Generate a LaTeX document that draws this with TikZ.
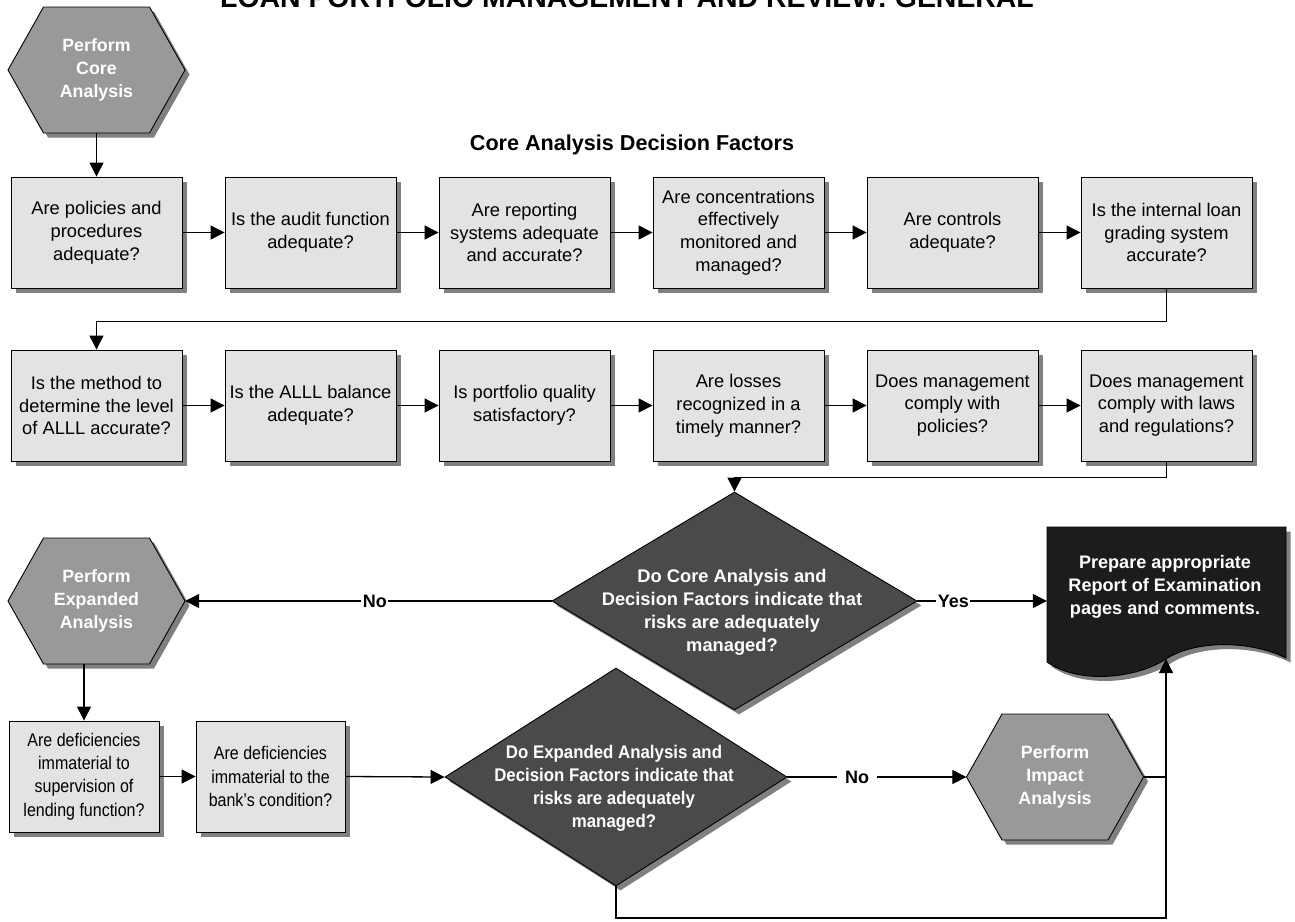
\documentclass[tikz,border=0pt]{standalone}
\usepackage{fontspec}
\setmainfont{Liberation Sans}
\newfontfamily\condfont[FakeStretch=0.875]{Liberation Sans}
\newfontfamily\condbfont[FakeStretch=0.92]{Liberation Sans}
\usetikzlibrary{shapes.geometric,arrows.meta,shadows,calc}

\definecolor{boxgray}{HTML}{E3E3E3}
\definecolor{hexgray}{HTML}{999999}
\definecolor{diagray}{HTML}{4A4A4A}
\definecolor{docblack}{HTML}{1C1C1C}
\definecolor{shadowgray}{HTML}{808080}

\tikzset{
  shadowed/.style={drop shadow={shadow xshift=4.5pt,shadow yshift=-4.5pt,fill=shadowgray,opacity=1}},
  qbox/.style={rectangle, draw=black, line width=0.9pt, fill=boxgray, minimum width=171pt, minimum height=111pt, inner sep=0pt, align=center, font=\fontsize{18.3}{22.8}\selectfont, shadowed},
  qboxc/.style={qbox, minimum width=150pt, font=\condfont\fontsize{18.3}{23.3}\selectfont},
  hexbody/.style={fill=hexgray, draw=black, line width=0.9pt},
  hextext/.style={rectangle, minimum width=177pt, minimum height=126pt, inner sep=0pt, align=center, text=white, font=\bfseries\fontsize{17.8}{23.3}\selectfont},
  decision/.style={diamond, draw=black, line width=0.9pt, fill=diagray, inner sep=0pt, shadowed},
  dectext/.style={align=center, text=white, font=\bfseries\fontsize{18.3}{23}\selectfont, inner sep=0pt},
  conn/.style={line width=1.3pt, -{Triangle[length=14pt,width=14pt]}},
  plainline/.style={line width=1.3pt},
  edgelabel/.style={fill=white, inner sep=1.5pt, font=\bfseries\fontsize{18}{20}\selectfont},
}

\newcommand{\hexat}[4]{%
  \fill[shadowgray] (#2-88.5+4.5,#3+4.5) -- (#2-53+4.5,#3-63+4.5) -- (#2+53+4.5,#3-63+4.5) -- (#2+88.5+4.5,#3+4.5) -- (#2+53+4.5,#3+63+4.5) -- (#2-53+4.5,#3+63+4.5) -- cycle;
  \draw[hexbody] (#2-88.5,#3) -- (#2-53,#3-63) -- (#2+53,#3-63) -- (#2+88.5,#3) -- (#2+53,#3+63) -- (#2-53,#3+63) -- cycle;
  \node[hextext] (#1) at (#2,#3) {#4};
}

\begin{document}
\begin{tikzpicture}[x=1pt,y=-1pt]
\useasboundingbox (0,0) rectangle (1295,921);
\fill[white] (0,0) rectangle (1295,921);

% title (partly cut off at top, as in the reference)
\node[anchor=base, inner sep=0pt, font=\bfseries\fontsize{28.4}{30}\selectfont] (title) at (627,7) {LOAN PORTFOLIO MANAGEMENT AND REVIEW: GENERAL};
\node[inner sep=0pt, font=\bfseries\fontsize{21.6}{24}\selectfont] (subtitle) at (632,145) {Core Analysis Decision Factors};

% hexagons
\hexat{hexcore}{96.5}{70}{Perform\\Core\\Analysis}
\hexat{hexexp}{96.5}{601}{Perform\\Expanded\\Analysis}
\hexat{heximp}{1055}{777}{Perform\\Impact\\Analysis}

% row 1
\node[qbox] (b1) at (96.5,232.5) {Are policies and\\procedures\\adequate?};
\node[qbox] (b2) at (310.5,232.5) {Is the audit function\\adequate?};
\node[qbox] (b3) at (524.5,232.5) {Are reporting\\systems adequate\\and accurate?};
\node[qbox] (b4) at (738.5,232.5) {Are concentrations\\effectively\\monitored and\\managed?};
\node[qbox] (b5) at (952.5,232.5) {Are controls\\adequate?};
\node[qbox] (b6) at (1166.5,232.5) {Is the internal loan\\grading system\\accurate?};
% row 2
\node[qbox] (b7) at (96.5,405.5) {Is the method to\\determine the level\\of ALLL accurate?};
\node[qbox] (b8) at (310.5,405.5) {Is the ALLL balance\\adequate?};
\node[qbox] (b9) at (524.5,405.5) {Is portfolio quality\\satisfactory?};
\node[qbox] (b10) at (738.5,405.5) {Are losses\\recognized in a\\timely manner?};
\node[qbox] (b11) at (952.5,405.5) {Does management\\comply with\\policies?};
\node[qbox] (b12) at (1166.5,405.5) {Does management\\comply with laws\\and regulations?};
% bottom row
\node[qboxc] (ba) at (84,776.5) {Are deficiencies\\immaterial to\\supervision of\\lending function?};
\node[qboxc, minimum width=149pt] (bb) at (270.5,776.5) {Are deficiencies\\immaterial to the\\bank’s condition?};

% decisions
\node[decision, minimum width=365pt, minimum height=218pt] (core) at (734.5,601) {};
\node[dectext] (coretext) at (732,612) {Do Core Analysis and\\Decision Factors indicate that\\risks are adequately\\managed?};
\node[decision, minimum width=342pt, minimum height=218pt] (exp) at (616,777) {};
\node[dectext, font=\condbfont\bfseries\fontsize{18.3}{23}\selectfont] (exptext) at (614,788) {Do Expanded Analysis and\\Decision Factors indicate that\\risks are adequately\\managed?};

% document
\fill[shadowgray, shift={(4.5,4.5)}] (1047,527) -- (1286,527) -- (1286,658) .. controls (1250,640) and (1195,640) .. (1166,659) .. controls (1137,678) and (1080,685) .. (1047,662) -- cycle;
\draw[fill=docblack, line width=0.9pt] (1047,527) -- (1286,527) -- (1286,658) .. controls (1250,640) and (1195,640) .. (1166,659) .. controls (1137,678) and (1080,685) .. (1047,662) -- cycle;
\node[rectangle, minimum width=239pt, minimum height=135pt, inner sep=0pt] (doc) at (1166.5,594.5) {};
\node[align=center, text=white, inner sep=0pt, font=\bfseries\fontsize{18.1}{23.3}\selectfont] (doctext) at (1165,587) {Prepare appropriate\\Report of Examination\\pages and comments.};
\coordinate (docin) at (1166,659);

% connectors
\draw[conn] (hexcore.south) -- (b1.north);
\draw[conn] (b1.east) -- (b2.west);
\draw[conn] (b2.east) -- (b3.west);
\draw[conn] (b3.east) -- (b4.west);
\draw[conn] (b4.east) -- (b5.west);
\draw[conn] (b5.east) -- (b6.west);
\draw[conn] (b6.south) -- ++(0,33) -| (b7.north);
\draw[conn] (b7.east) -- (b8.west);
\draw[conn] (b8.east) -- (b9.west);
\draw[conn] (b9.east) -- (b10.west);
\draw[conn] (b10.east) -- (b11.west);
\draw[conn] (b11.east) -- (b12.west);
\draw[conn] (b12.south) -- ++(0,16) -| (core.north);
\draw[conn] (core.west) -- node[edgelabel, pos=0.482] (nolab1) {No} (hexexp.east);
\draw[conn] (core.east) -- node[edgelabel, pos=0.277] (yeslab) {Yes} (core.east -| doc.west);
\draw[conn] (ba.north |- hexexp.south) -- (ba.north);
\draw[conn] (ba.east) -- (bb.west);
\draw[conn] (bb.east) -- (exp.west);
\draw[conn] (exp.east) -- node[edgelabel, inner xsep=8pt, pos=0.39] (nolab2) {No} (heximp.west);
\coordinate (loop) at (1166,918);
\draw[plainline] (heximp.east) -- (heximp.east -| loop);
\draw[conn] (exp.south) |- (loop) -- (docin);
\end{tikzpicture}
\end{document}
